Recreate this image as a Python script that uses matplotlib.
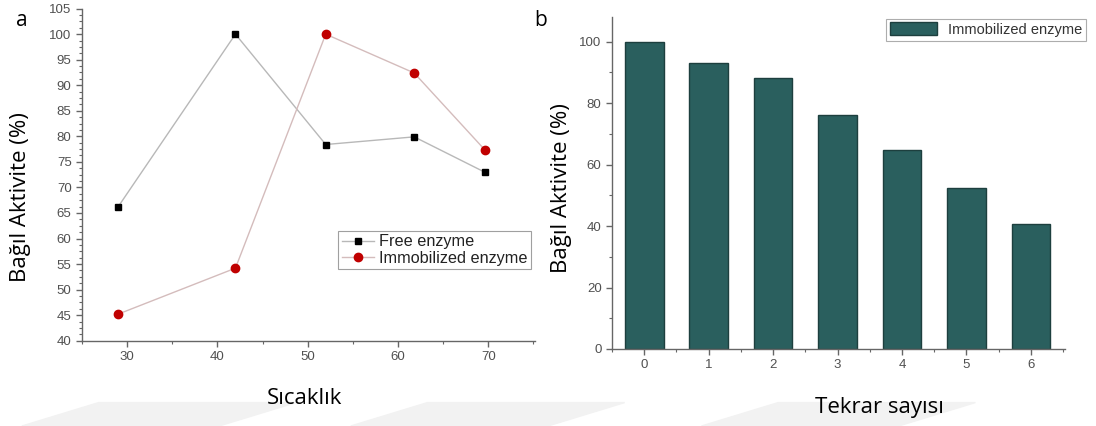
import matplotlib
matplotlib.use("Agg")
import matplotlib.pyplot as plt
from matplotlib.ticker import AutoMinorLocator, MultipleLocator
from matplotlib.patches import Polygon

# panel a data
temp_free = [29, 42, 52, 61.8, 69.6]
act_free = [66.2, 100, 78.4, 79.9, 73.0]
temp_imm = [29, 42, 52, 61.8, 69.6]
act_imm = [45.2, 54.2, 100, 92.4, 77.4]

# panel b data
cycles = [0, 1, 2, 3, 4, 5, 6]
act_reuse = [100, 93.2, 88.3, 76.3, 64.6, 52.5, 40.6]

plt.rcParams['font.family'] = ['Liberation Sans', 'DejaVu Sans']

tick_col = '#505050'
lab_font = 'Open Sans'
lab_size = 16

fig = plt.figure(figsize=(10.96, 4.26), dpi=100)

# faint watermark stripes along the bottom
for x0 in [0.0, 0.30, 0.62]:
    fig.patches.append(Polygon([[x0 + 0.02, 0.0], [x0 + 0.09, 0.055], [x0 + 0.27, 0.055], [x0 + 0.20, 0.0]],
                               closed=True, transform=fig.transFigure, color='#f2f2f2', zorder=0))


def style_axis(ax):
    ax.spines['top'].set_visible(False)
    ax.spines['right'].set_visible(False)
    for s in ['left', 'bottom']:
        ax.spines[s].set_color('#666666')
        ax.spines[s].set_linewidth(1.0)
    ax.tick_params(which='major', direction='out', length=4, width=1, colors='#666666',
                   labelcolor=tick_col, labelsize=9.5)
    ax.tick_params(which='minor', direction='out', length=2, width=0.8, colors='#666666')


# ---------- panel a ----------
ax1 = fig.add_axes([0.0748, 0.2002, 0.4135, 0.7796])
ax1.plot(temp_free, act_free, color='#b8b8b8', lw=1, marker='s', ms=5,
         mfc='black', mec='black', label='Free enzyme')
ax1.plot(temp_imm, act_imm, color='#d4bcbc', lw=1, marker='o', ms=6,
         mfc='#c00000', mec='#c00000', label='Immobilized enzyme')
ax1.set_xlim(25, 75.2)
ax1.set_ylim(40, 105)
ax1.xaxis.set_major_locator(MultipleLocator(10))
ax1.xaxis.set_minor_locator(AutoMinorLocator(2))
ax1.yaxis.set_major_locator(MultipleLocator(5))
ax1.yaxis.set_minor_locator(AutoMinorLocator(4))
style_axis(ax1)
leg = ax1.legend(loc='upper right', bbox_to_anchor=(0.99, 0.33), fontsize=11.7,
                 frameon=True, fancybox=False, borderpad=0.2, handlelength=2.0,
                 handletextpad=0.3, labelspacing=0.1, borderaxespad=0)
leg.get_frame().set_edgecolor('#888888')
leg.get_frame().set_linewidth(0.8)
for t in leg.get_texts():
    t.set_color('#222222')

# ---------- panel b ----------
ax2 = fig.add_axes([0.5584, 0.1808, 0.4133, 0.779])
ax2.bar(cycles, act_reuse, width=0.6, color='#2a5f5e', edgecolor='#1d3f3e',
        linewidth=1, label='Immobilized enzyme')
ax2.set_xlim(-0.5, 6.53)
ax2.set_ylim(0, 108)
ax2.xaxis.set_major_locator(MultipleLocator(1))
ax2.xaxis.set_minor_locator(AutoMinorLocator(2))
ax2.yaxis.set_major_locator(MultipleLocator(20))
ax2.yaxis.set_minor_locator(AutoMinorLocator(2))
style_axis(ax2)
leg2 = ax2.legend(loc='upper right', bbox_to_anchor=(0.991, 0.956),
                  bbox_transform=fig.transFigure, fontsize=10.5, frameon=True,
                  fancybox=False, borderpad=0.25, handlelength=3.2, handleheight=1.0,
                  handletextpad=0.8, borderaxespad=0)
leg2.get_frame().set_edgecolor('#999999')
leg2.get_frame().set_linewidth(0.8)
for t in leg2.get_texts():
    t.set_color('#333333')

# axis titles placed as in the source figure
fig.text(304 / 1096, 1 - 399 / 426, 'Sıcaklık', fontsize=lab_size, family=lab_font,
         ha='center', va='center')
fig.text(879 / 1096, 1 - 408 / 426, 'Tekrar sayısı', fontsize=lab_size, family=lab_font,
         ha='center', va='center')
fig.text(21 / 1096, 1 - 197 / 426, 'Bağıl Aktivite (%)', fontsize=lab_size, family=lab_font,
         ha='center', va='center', rotation=90)
fig.text(561 / 1096, 1 - 188 / 426, 'Bağıl Aktivite (%)', fontsize=lab_size, family=lab_font,
         ha='center', va='center', rotation=90)

# panel letters
fig.text(22 / 1096, 1 - 20 / 426, 'a', fontsize=15, family=lab_font, ha='center', va='center')
fig.text(541 / 1096, 1 - 20 / 426, 'b', fontsize=15, family=lab_font, ha='center', va='center')

fig.savefig('out.png', dpi=100)
